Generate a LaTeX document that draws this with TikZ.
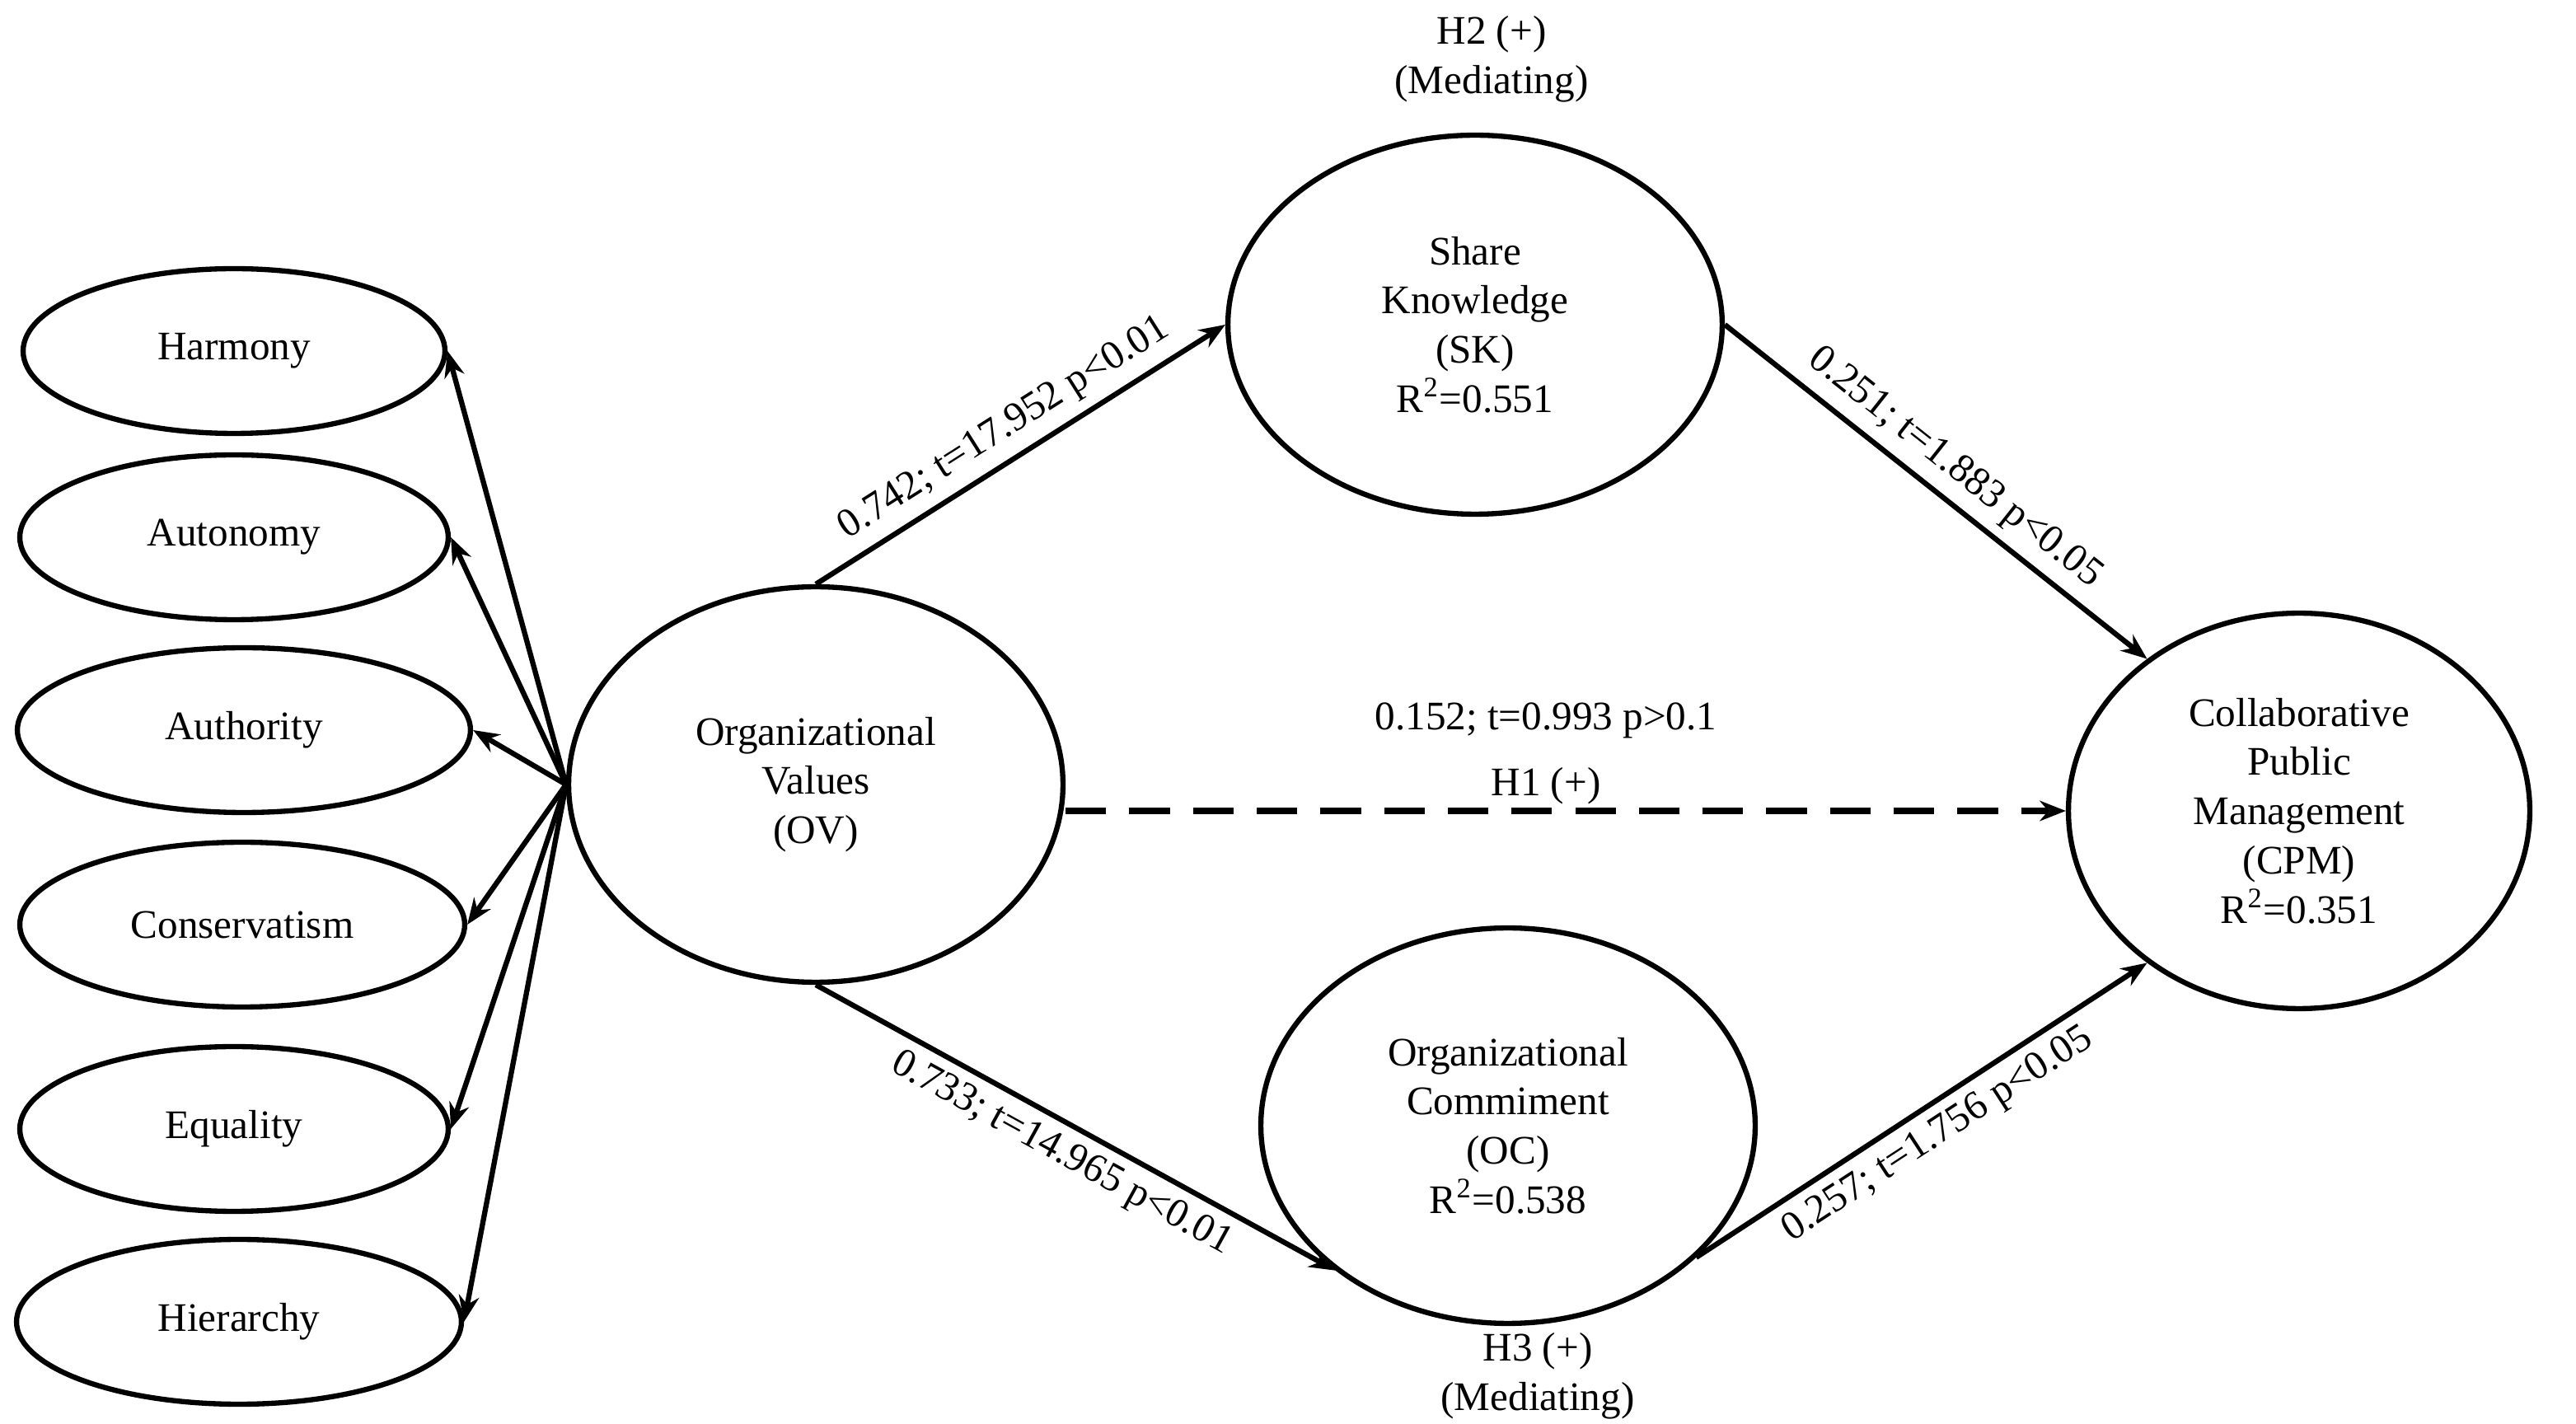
\documentclass[tikz,border=0pt]{standalone}
\usepackage{fontspec}
\setmainfont{Liberation Serif}
\usetikzlibrary{shapes.geometric,arrows.meta}
\tikzset{
  construct/.style={ellipse, draw, line width=1.8pt, inner sep=0pt, align=center},
  link/.style={-{Stealth[length=9pt,width=7pt]}, line width=1.8pt},
  coef/.style={font=\fontsize{14}{17}\selectfont, sloped, above}
}
\begin{document}
\begin{tikzpicture}[x=0.02cm, y=-0.02cm, font=\fontsize{14}{17}\selectfont]
        \useasboundingbox (0,0) rectangle (1563,864);

        % Dimensions of organizational values
        \node[construct, minimum width=5.12cm, minimum height=2cm] (harmony) at (142,213) {Harmony};
        \node[construct, minimum width=5.2cm, minimum height=2cm] (autonomy) at (142,326) {Autonomy};
        \node[construct, minimum width=5.5cm, minimum height=2cm] (authority) at (148,443) {Authority};
        \node[construct, minimum width=5.4cm, minimum height=2cm] (conserv) at (147,561) {Conservatism};
        \node[construct, minimum width=5.2cm, minimum height=2cm] (equality) at (142,685) {Equality};
        \node[construct, minimum width=5.4cm, minimum height=2cm] (hierarchy) at (145,802) {Hierarchy};

        % Latent constructs
        \node[construct, minimum width=6cm, minimum height=4.8cm] (ov) at (495,476) {Organizational\\Values\\(OV)};
        \node[construct, minimum width=6cm, minimum height=4.6cm] (sk) at (895,197) {Share\\Knowledge\\(SK)\\R\textsuperscript{2}=0.551};
        \node[construct, minimum width=6cm, minimum height=4.8cm] (oc) at (915,683) {Organizational\\Commiment\\(OC)\\R\textsuperscript{2}=0.538};
        \node[construct, minimum width=5.6cm, minimum height=4.8cm] (cpm) at (1395,492) {Collaborative\\Public\\Management\\(CPM)\\R\textsuperscript{2}=0.351};

        % Loadings
        \foreach \d in {harmony, autonomy, authority, conserv, equality, hierarchy}
            \draw[link] (ov.west) -- (\d.east);

        % Structural paths
        \draw[link] (ov.north) -- node[coef] {0.742; t=17.952 p<0.01} (sk.west);
        \draw[link] (sk.east) -- node[coef] {0.251; t=1.883 p<0.05} (cpm.135);
        \draw[link] (ov.south) -- node[coef, below] {0.733; t=14.965 p<0.01} (oc.220);
        \draw[link] (oc.-35) -- node[coef, below] {0.257; t=1.756 p<0.05} (cpm.225);
        \draw[link, line width=2.4pt, dash pattern=on 14pt off 8pt] (ov.east |- cpm.west) -- (cpm.west);

        % Hypotheses
        \node[align=center] (h2) at (905,36) {H2 (+)\\(Mediating)};
        \node[align=center] (h3) at (933,835) {H3 (+)\\(Mediating)};
        \node (h1c) at (938,437) {0.152; t=0.993 p>0.1};
        \node (h1) at (938,477) {H1 (+)};
\end{tikzpicture}
\end{document}
